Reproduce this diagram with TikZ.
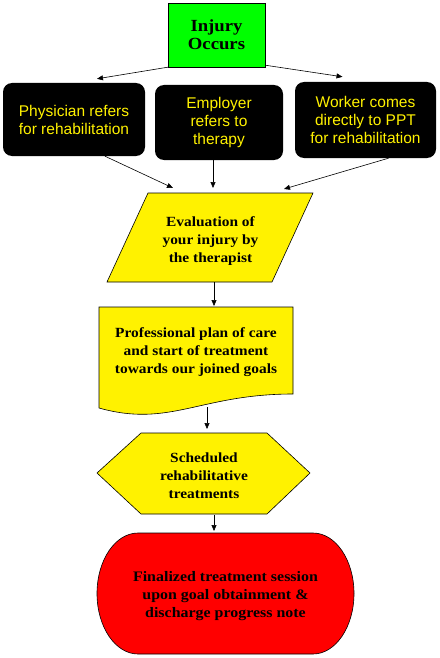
\documentclass[tikz,border=0pt]{standalone}
\usepackage{fontspec}
\setmainfont{Liberation Serif}
\newfontfamily\boxfont{Liberation Sans}
\newfontfamily\flowfont[FakeStretch=1.1]{Liberation Serif}
\usetikzlibrary{arrows.meta, positioning}

\begin{document}
\begin{tikzpicture}[
  x=1pt, y=-1pt,
  start/.style={draw=black, fill=green, minimum width=97pt, minimum height=64pt, inner sep=0pt, font=\flowfont\bfseries\fontsize{17}{18}\selectfont, align=center},
  blackbox/.style={fill=black, rounded corners=9pt, inner sep=0pt, text=yellow, font=\boxfont\fontsize{15.5}{18}\selectfont, align=center},
  flow/.style={draw=black, line width=0.6pt},
  flowtext/.style={font=\flowfont\bfseries\fontsize{14}{18}\selectfont, align=center},
  arr/.style={-{Triangle[length=6pt, width=5pt]}, line width=0.6pt}
]
\useasboundingbox (0,0) rectangle (439,658);

% Start and referral boxes
\node[start] (injury) at (216.5,35) {Injury\\Occurs};
\node[blackbox, minimum width=142pt, minimum height=73pt] (phys) at (74,119.5) {Physician refers\\for rehabilitation};
\node[blackbox, minimum width=128pt, minimum height=75pt] (empl) at (219,122.5) {Employer\\refers to\\therapy};
\node[blackbox, minimum width=141pt, minimum height=76pt] (work) at (365.5,120) {Worker comes\\directly to PPT\\for rehabilitation};

% Evaluation (parallelogram)
\coordinate (evtop) at (213,193);
\coordinate (evbot) at (214,282);
\draw[flow, fill=yellow] (148,193) -- (313,193) -- (272,282) -- (107,282) -- cycle;
\node[flowtext] (eval) at (210.5,241) {Evaluation of\\your injury by\\the therapist};

% Plan of care (document)
\coordinate (pltop) at (214,307);
\coordinate (plbot) at (207,407);
\draw[flow, fill=yellow] (99,307) -- (293,307) -- (293,394)
  .. controls (200,394) and (170,428) .. (99,408) -- cycle;
\node[flowtext] (plan) at (196,352) {Professional plan of care\\and start of treatment\\towards our joined goals};

% Scheduled treatments (hexagon)
\coordinate (sctop) at (207,433);
\coordinate (scbot) at (214,515);
\draw[flow, fill=yellow] (141,433) -- (267,433) -- (310,473) -- (267,514) -- (141,514) -- (97,473) -- cycle;
\node[flowtext] (sched) at (204,476) {Scheduled\\rehabilitative\\treatments};

% Final session (terminal)
\coordinate (fntop) at (214,533);
\draw[flow, fill=red] (138,533) -- (313,533) arc[start angle=-90, end angle=90, x radius=41, y radius=60.5]
  -- (138,654) arc[start angle=90, end angle=270, x radius=41, y radius=60.5] -- cycle;
\node[flowtext, font=\flowfont\bfseries\fontsize{14.5}{18}\selectfont] (final) at (225.5,596) {Finalized treatment session\\upon goal obtainment \&\\discharge progress note};

% Connectors
\draw[arr] (injury.south west) -- ([xshift=23pt, yshift=4pt]phys.north);
\draw[arr] ([yshift=2pt]injury.south east) -- ([xshift=-23pt, yshift=5pt]work.north);
\draw[arr] ([xshift=31pt]phys.south) -- ([xshift=-40pt, yshift=5pt]evtop);
\draw[arr] ([xshift=-6pt]empl.south) -- ([yshift=5pt]evtop);
\draw[arr] ([xshift=23pt]work.south) -- ([xshift=71pt, yshift=4pt]evtop);
\draw[arr] (evbot) -- ([yshift=1pt]pltop);
\draw[arr] (plbot) -- ([yshift=4pt]sctop);
\draw[arr] (scbot) -- ([yshift=2pt]fntop);
\end{tikzpicture}
\end{document}
